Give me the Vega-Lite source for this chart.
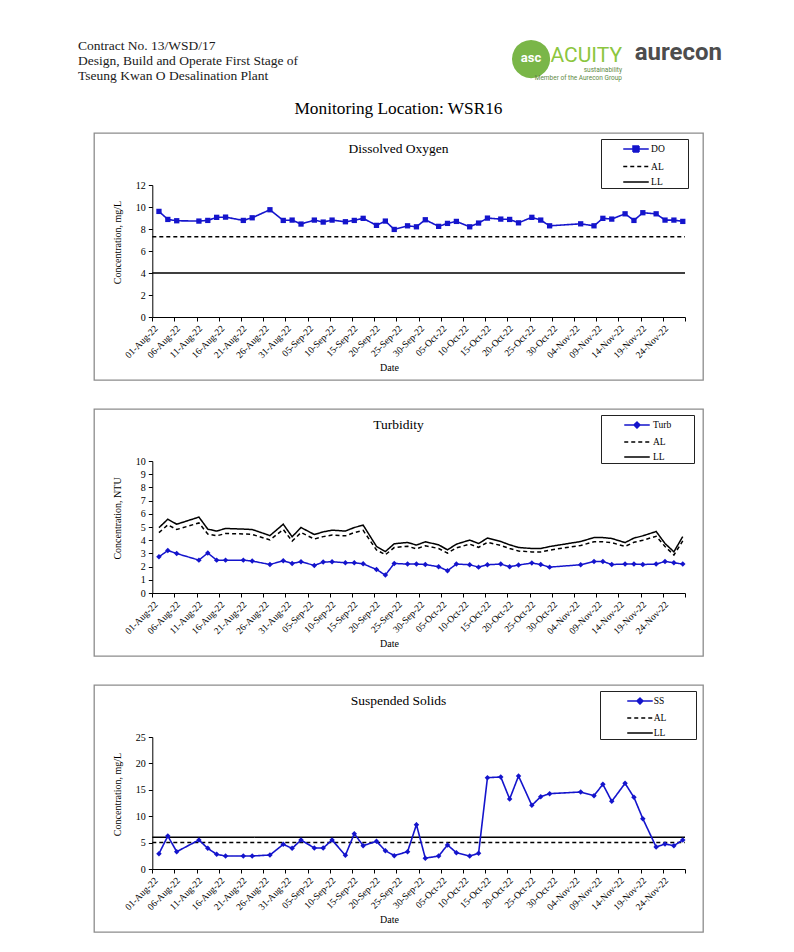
{
  "$schema": "https://vega.github.io/schema/vega-lite/v6.json",
  "background": "white",
  "padding": {"left": 78, "top": 32, "right": 4, "bottom": 4},
  "config": {
    "view": {"stroke": null},
    "title": {"font": "Liberation Serif", "fontWeight": "normal", "color": "black"},
    "axis": {"labelFont": "Liberation Serif", "titleFont": "Liberation Serif", "titleFontWeight": "normal", "labelColor": "black", "titleColor": "black", "domainColor": "black", "tickColor": "black", "grid": false, "labelOverlap": false, "labelFlush": false, "labelBound": false},
    "legend": {"labelFont": "Liberation Serif", "labelColor": "black"}
  },
  "datasets": {
    "wq": [
      {"date": "2022-08-02", "DO": 9.6, "Turb": 2.74, "AL": 4.57, "LL": 4.95, "SS": 2.9},
      {"date": "2022-08-04", "DO": 8.87, "Turb": 3.22, "AL": 5.16, "LL": 5.59, "SS": 6.25},
      {"date": "2022-08-06", "DO": 8.75, "Turb": 2.99, "AL": 4.81, "LL": 5.21, "SS": 3.28},
      {"date": "2022-08-11", "DO": 8.72, "Turb": 2.49, "AL": 5.31, "LL": 5.75, "SS": 5.49},
      {"date": "2022-08-13", "DO": 8.78, "Turb": 3.03, "AL": 4.47, "LL": 4.84, "SS": 3.91},
      {"date": "2022-08-15", "DO": 9.06, "Turb": 2.49, "AL": 4.33, "LL": 4.69, "SS": 2.78},
      {"date": "2022-08-17", "DO": 9.08, "Turb": 2.49, "AL": 4.51, "LL": 4.89, "SS": 2.46},
      {"date": "2022-08-21", "DO": 8.78, "Turb": 2.49, "AL": 4.47, "LL": 4.84, "SS": 2.46},
      {"date": "2022-08-23", "DO": 9.02, "Turb": 2.42, "AL": 4.44, "LL": 4.81, "SS": 2.46},
      {"date": "2022-08-27", "DO": 9.75, "Turb": 2.16, "AL": 4.02, "LL": 4.35, "SS": 2.65},
      {"date": "2022-08-30", "DO": 8.78, "Turb": 2.44, "AL": 4.81, "LL": 5.21, "SS": 4.67},
      {"date": "2022-09-01", "DO": 8.81, "Turb": 2.24, "AL": 3.93, "LL": 4.26, "SS": 3.91},
      {"date": "2022-09-03", "DO": 8.45, "Turb": 2.37, "AL": 4.58, "LL": 4.96, "SS": 5.49},
      {"date": "2022-09-06", "DO": 8.81, "Turb": 2.09, "AL": 4.09, "LL": 4.43, "SS": 3.98},
      {"date": "2022-09-08", "DO": 8.63, "Turb": 2.34, "AL": 4.27, "LL": 4.63, "SS": 3.98},
      {"date": "2022-09-10", "DO": 8.81, "Turb": 2.37, "AL": 4.39, "LL": 4.76, "SS": 5.49},
      {"date": "2022-09-13", "DO": 8.66, "Turb": 2.29, "AL": 4.33, "LL": 4.69, "SS": 2.59},
      {"date": "2022-09-15", "DO": 8.78, "Turb": 2.29, "AL": 4.58, "LL": 4.96, "SS": 6.69},
      {"date": "2022-09-17", "DO": 8.97, "Turb": 2.21, "AL": 4.74, "LL": 5.14, "SS": 4.42},
      {"date": "2022-09-20", "DO": 8.33, "Turb": 1.78, "AL": 3.26, "LL": 3.53, "SS": 5.24},
      {"date": "2022-09-22", "DO": 8.72, "Turb": 1.36, "AL": 2.9, "LL": 3.14, "SS": 3.47},
      {"date": "2022-09-24", "DO": 7.96, "Turb": 2.24, "AL": 3.44, "LL": 3.73, "SS": 2.53},
      {"date": "2022-09-27", "DO": 8.29, "Turb": 2.19, "AL": 3.54, "LL": 3.83, "SS": 3.28},
      {"date": "2022-09-29", "DO": 8.2, "Turb": 2.19, "AL": 3.35, "LL": 3.63, "SS": 8.4},
      {"date": "2022-10-01", "DO": 8.84, "Turb": 2.16, "AL": 3.58, "LL": 3.88, "SS": 2.05},
      {"date": "2022-10-04", "DO": 8.24, "Turb": 1.99, "AL": 3.37, "LL": 3.65, "SS": 2.46},
      {"date": "2022-10-06", "DO": 8.51, "Turb": 1.69, "AL": 3.02, "LL": 3.27, "SS": 4.55},
      {"date": "2022-10-08", "DO": 8.69, "Turb": 2.19, "AL": 3.42, "LL": 3.7, "SS": 3.09},
      {"date": "2022-10-11", "DO": 8.2, "Turb": 2.14, "AL": 3.7, "LL": 4.01, "SS": 2.46},
      {"date": "2022-10-13", "DO": 8.54, "Turb": 1.96, "AL": 3.46, "LL": 3.75, "SS": 2.97},
      {"date": "2022-10-15", "DO": 8.99, "Turb": 2.14, "AL": 3.84, "LL": 4.16, "SS": 17.3},
      {"date": "2022-10-18", "DO": 8.9, "Turb": 2.19, "AL": 3.6, "LL": 3.9, "SS": 17.42},
      {"date": "2022-10-20", "DO": 8.87, "Turb": 1.99, "AL": 3.37, "LL": 3.65, "SS": 13.26},
      {"date": "2022-10-22", "DO": 8.56, "Turb": 2.12, "AL": 3.18, "LL": 3.45, "SS": 17.61},
      {"date": "2022-10-25", "DO": 9.06, "Turb": 2.27, "AL": 3.11, "LL": 3.37, "SS": 12.06},
      {"date": "2022-10-27", "DO": 8.81, "Turb": 2.16, "AL": 3.11, "LL": 3.37, "SS": 13.7},
      {"date": "2022-10-29", "DO": 8.29, "Turb": 1.96, "AL": 3.25, "LL": 3.52, "SS": 14.27},
      {"date": "2022-11-05", "DO": 8.47, "Turb": 2.14, "AL": 3.6, "LL": 3.9, "SS": 14.58},
      {"date": "2022-11-08", "DO": 8.29, "Turb": 2.39, "AL": 3.88, "LL": 4.2, "SS": 13.89},
      {"date": "2022-11-10", "DO": 8.97, "Turb": 2.39, "AL": 3.88, "LL": 4.2, "SS": 16.04},
      {"date": "2022-11-12", "DO": 8.9, "Turb": 2.16, "AL": 3.81, "LL": 4.13, "SS": 12.82},
      {"date": "2022-11-15", "DO": 9.38, "Turb": 2.19, "AL": 3.53, "LL": 3.82, "SS": 16.22},
      {"date": "2022-11-17", "DO": 8.78, "Turb": 2.19, "AL": 3.84, "LL": 4.16, "SS": 13.57},
      {"date": "2022-11-19", "DO": 9.48, "Turb": 2.16, "AL": 4.0, "LL": 4.33, "SS": 9.53},
      {"date": "2022-11-22", "DO": 9.38, "Turb": 2.19, "AL": 4.3, "LL": 4.66, "SS": 4.17},
      {"date": "2022-11-24", "DO": 8.81, "Turb": 2.39, "AL": 3.52, "LL": 3.75, "SS": 4.73},
      {"date": "2022-11-26", "DO": 8.81, "Turb": 2.29, "AL": 2.88, "LL": 3.12, "SS": 4.42},
      {"date": "2022-11-28", "DO": 8.69, "Turb": 2.19, "AL": 3.95, "LL": 4.28, "SS": 5.49}
    ],
    "do_limits": [
      {"series": "AL", "value": 7.3},
      {"series": "LL", "value": 4.0}
    ],
    "ss_limits": [
      {"series": "AL", "value": 5.0},
      {"series": "LL", "value": 6.0}
    ]
  },
  "spacing": 15,
  "vconcat": [
    {
      "bounds": "flush",
      "spacing": 0,
      "hconcat": [
        {
          "width": 416, "height": 1,
          "data": {"values": []},
          "mark": "point",
          "title": {"text": ["Contract No. 13/WSD/17", "Design, Build and Operate First Stage of", "Tseung Kwan O Desalination Plant"], "anchor": "start", "dx": -16, "fontSize": 13.5, "lineHeight": 15, "offset": 2, "color": "#1a1a1a"}
        },
        {
          "width": 42, "height": 1,
          "data": {"values": []},
          "mark": "point",
          "title": {"text": "●", "font": "DejaVu Sans", "fontSize": 50, "color": "#7ab648", "anchor": "middle", "offset": 2, "subtitle": "asc", "subtitleFont": "Roboto", "subtitleFontWeight": "bold", "subtitleFontSize": 13, "subtitleColor": "white", "subtitlePadding": -30}
        },
        {
          "width": 70, "height": 1,
          "data": {"values": []},
          "mark": "point",
          "title": {"text": "ACUITY", "font": "Roboto", "fontSize": 21, "color": "#8cc63f", "anchor": "end", "offset": 3, "subtitle": ["sustainability", "Member of the Aurecon Group"], "subtitleFont": "Roboto", "subtitleFontSize": 6.5, "subtitleLineHeight": 8, "subtitleColor": "#5f8a45", "subtitlePadding": 1}
        },
        {
          "width": 100, "height": 1,
          "data": {"values": []},
          "mark": "point",
          "title": {"text": "aurecon", "font": "Roboto", "fontWeight": "bold", "fontSize": 24, "color": "#4d4d4d", "anchor": "end", "offset": 19}
        }
      ]
    },
    {
      "title": {"text": "Monitoring Location: WSR16", "anchor": "middle", "fontSize": 17.3, "offset": 15},
      "spacing": 27,
      "resolve": {"scale": {"color": "independent", "strokeDash": "independent", "x": "independent", "y": "independent"}, "legend": {"color": "independent", "strokeDash": "independent"}, "axis": {"x": "independent", "y": "independent"}},
      "vconcat": [
        {
          "width": 609, "height": 247,
          "view": {"stroke": "#8c8c8c", "strokeWidth": 1.3},
          "title": {"text": "Dissolved Oxygen", "anchor": "middle", "frame": "group", "fontSize": 13.5, "offset": -22},
          "layer": [
            {
              "data": {"name": "do_limits"},
              "mark": {"type": "rule", "strokeWidth": 1.5},
              "encoding": {
                "x": {"datum": {"year": 2022, "month": 8, "date": 1, "utc": true}, "type": "temporal",
                  "scale": {"type": "utc", "domain": [{"year": 2022, "month": 8, "date": 1, "utc": true}, {"year": 2022, "month": 11, "date": 29, "utc": true}], "range": [58.3, 591], "nice": false},
                  "axis": {"title": "Date", "titleFontSize": 10, "titleX": 295, "titleY": 50, "titleBaseline": "middle", "titleAlign": "center", "offset": -63, "tickCount": 200,
                    "values": [{"year": 2022, "month": 8, "date": 1, "utc": true}, {"year": 2022, "month": 8, "date": 6, "utc": true}, {"year": 2022, "month": 8, "date": 11, "utc": true}, {"year": 2022, "month": 8, "date": 16, "utc": true}, {"year": 2022, "month": 8, "date": 21, "utc": true}, {"year": 2022, "month": 8, "date": 26, "utc": true}, {"year": 2022, "month": 8, "date": 31, "utc": true}, {"year": 2022, "month": 9, "date": 5, "utc": true}, {"year": 2022, "month": 9, "date": 10, "utc": true}, {"year": 2022, "month": 9, "date": 15, "utc": true}, {"year": 2022, "month": 9, "date": 20, "utc": true}, {"year": 2022, "month": 9, "date": 25, "utc": true}, {"year": 2022, "month": 9, "date": 30, "utc": true}, {"year": 2022, "month": 10, "date": 5, "utc": true}, {"year": 2022, "month": 10, "date": 10, "utc": true}, {"year": 2022, "month": 10, "date": 15, "utc": true}, {"year": 2022, "month": 10, "date": 20, "utc": true}, {"year": 2022, "month": 10, "date": 25, "utc": true}, {"year": 2022, "month": 10, "date": 30, "utc": true}, {"year": 2022, "month": 11, "date": 4, "utc": true}, {"year": 2022, "month": 11, "date": 9, "utc": true}, {"year": 2022, "month": 11, "date": 14, "utc": true}, {"year": 2022, "month": 11, "date": 19, "utc": true}, {"year": 2022, "month": 11, "date": 24, "utc": true}, {"year": 2022, "month": 11, "date": 29, "utc": true}],
                    "labelExpr": "datum.value > 1669500000000 ? '' : utcFormat(datum.value, '%d-%b-%y')",
                    "labelAngle": -45, "labelFontSize": 9.5, "labelOverlap": false, "labelBound": false, "labelFlush": false, "labelPadding": 2, "tickSize": 4}
                },
                "x2": {"datum": {"year": 2022, "month": 11, "date": 29, "utc": true}},
                "y": {"field": "value", "type": "quantitative",
                  "scale": {"domain": [0, 12], "range": [184, 52], "nice": false, "zero": true},
                  "axis": {"title": "Concentration, mg/L", "titleFontSize": 10, "titleX": -35, "titleY": 109, "titleBaseline": "middle", "titleAlign": "center", "titleAngle": -90, "offset": -58.3, "values": [0, 2, 4, 6, 8, 10, 12], "tickCount": 50, "format": "d", "labelFontSize": 10, "tickSize": 4, "labelPadding": 3}
                },
                "color": {"field": "series", "type": "nominal",
                  "scale": {"domain": ["DO", "AL", "LL"], "range": ["#1414cc", "black", "black"]},
                  "legend": {"title": null, "orient": "none", "legendX": 507, "legendY": 6, "direction": "vertical", "padding": 1.5, "strokeColor": "#222222", "fillColor": "white", "symbolSize": 225, "symbolStrokeWidth": 1.5, "symbolOffset": 25, "labelOffset": 6.6, "symbolOpacity": 1, "labelFontSize": 9.5, "rowPadding": 2.5,
                    "labelExpr": "datum.label + '\u2800\u2800\u2800'",
                    "encode": {"symbols": {"update": {
                      "shape": {"signal": "datum.value === 'DO' ? 'M-1.7,0H1.7M-0.4,-0.4H0.4V0.4H-0.4Z' : 'M-1.7,0H1.7'"},
                      "fill": {"signal": "datum.value === 'DO' ? '#1414cc' : 'transparent'"},
                      "strokeDash": {"signal": "datum.value === 'AL' ? [4,3] : [1,0]"},
                      "strokeWidth": {"value": 1.5},
                      "opacity": {"value": 1}
                    }}}
                  }
                },
                "strokeDash": {"field": "series", "type": "nominal", "scale": {"domain": ["DO", "AL", "LL"], "range": [[1, 0], [4, 3], [1, 0]]}, "legend": null}
              }
            },
            {
              "data": {"name": "wq"},
              "transform": [{"fold": ["DO"], "as": ["series", "value"]}],
              "mark": {"type": "line", "strokeWidth": 1.6},
              "encoding": {
                "x": {"field": "date", "type": "temporal", "timeUnit": "utcyearmonthdate", "bandPosition": 0.5},
                "y": {"field": "value", "type": "quantitative"},
                "color": {"field": "series", "type": "nominal"},
                "strokeDash": {"field": "series", "type": "nominal", "legend": null}
              }
            },
            {
              "data": {"name": "wq"},
              "mark": {"type": "point", "shape": "square", "filled": true, "size": 28, "color": "#1414cc", "opacity": 1},
              "encoding": {
                "x": {"field": "date", "type": "temporal", "timeUnit": "utcyearmonthdate", "bandPosition": 0.5},
                "y": {"field": "DO", "type": "quantitative"}
              }
            }
          ]
        },
        {
          "width": 609, "height": 247,
          "view": {"stroke": "#8c8c8c", "strokeWidth": 1.3},
          "title": {"text": "Turbidity", "anchor": "middle", "frame": "group", "fontSize": 13.5, "offset": -22},
          "layer": [
            {
              "data": {"name": "wq"},
              "transform": [{"fold": ["Turb", "AL", "LL"], "as": ["series", "value"]}],
              "mark": {"type": "line", "strokeWidth": 1.5},
              "encoding": {
                "x": {"field": "date", "type": "temporal", "timeUnit": "utcyearmonthdate", "bandPosition": 0.5,
                  "scale": {"type": "utc", "domain": [{"year": 2022, "month": 8, "date": 1, "utc": true}, {"year": 2022, "month": 11, "date": 29, "utc": true}], "range": [58.3, 591], "nice": false},
                  "axis": {"title": "Date", "titleFontSize": 10, "titleX": 295, "titleY": 50, "titleBaseline": "middle", "titleAlign": "center", "offset": -63, "tickCount": 200,
                    "values": [{"year": 2022, "month": 8, "date": 1, "utc": true}, {"year": 2022, "month": 8, "date": 6, "utc": true}, {"year": 2022, "month": 8, "date": 11, "utc": true}, {"year": 2022, "month": 8, "date": 16, "utc": true}, {"year": 2022, "month": 8, "date": 21, "utc": true}, {"year": 2022, "month": 8, "date": 26, "utc": true}, {"year": 2022, "month": 8, "date": 31, "utc": true}, {"year": 2022, "month": 9, "date": 5, "utc": true}, {"year": 2022, "month": 9, "date": 10, "utc": true}, {"year": 2022, "month": 9, "date": 15, "utc": true}, {"year": 2022, "month": 9, "date": 20, "utc": true}, {"year": 2022, "month": 9, "date": 25, "utc": true}, {"year": 2022, "month": 9, "date": 30, "utc": true}, {"year": 2022, "month": 10, "date": 5, "utc": true}, {"year": 2022, "month": 10, "date": 10, "utc": true}, {"year": 2022, "month": 10, "date": 15, "utc": true}, {"year": 2022, "month": 10, "date": 20, "utc": true}, {"year": 2022, "month": 10, "date": 25, "utc": true}, {"year": 2022, "month": 10, "date": 30, "utc": true}, {"year": 2022, "month": 11, "date": 4, "utc": true}, {"year": 2022, "month": 11, "date": 9, "utc": true}, {"year": 2022, "month": 11, "date": 14, "utc": true}, {"year": 2022, "month": 11, "date": 19, "utc": true}, {"year": 2022, "month": 11, "date": 24, "utc": true}, {"year": 2022, "month": 11, "date": 29, "utc": true}],
                    "labelExpr": "datum.value > 1669500000000 ? '' : utcFormat(datum.value, '%d-%b-%y')",
                    "labelAngle": -45, "labelFontSize": 9.5, "labelOverlap": false, "labelBound": false, "labelFlush": false, "labelPadding": 2, "tickSize": 4}
                },
                "y": {"field": "value", "type": "quantitative",
                  "scale": {"domain": [0, 10], "range": [184, 52], "nice": false, "zero": true},
                  "axis": {"title": "Concentration, NTU", "titleFontSize": 10, "titleX": -35, "titleY": 109, "titleBaseline": "middle", "titleAlign": "center", "titleAngle": -90, "offset": -58.3, "values": [0, 1, 2, 3, 4, 5, 6, 7, 8, 9, 10], "tickCount": 50, "format": "d", "labelFontSize": 10, "tickSize": 4, "labelPadding": 3}
                },
                "color": {"field": "series", "type": "nominal",
                  "scale": {"domain": ["Turb", "AL", "LL"], "range": ["#1414cc", "black", "black"]},
                  "legend": {"title": null, "orient": "none", "legendX": 507, "legendY": 6, "direction": "vertical", "padding": 1.5, "strokeColor": "#222222", "fillColor": "white", "symbolSize": 225, "symbolStrokeWidth": 1.5, "symbolOffset": 26, "labelOffset": 7.5, "symbolOpacity": 1, "labelFontSize": 9.5, "rowPadding": 2,
                    "labelExpr": "datum.label + '\u2800\u2800\u2800'",
                    "encode": {"symbols": {"update": {
                      "shape": {"signal": "datum.value === 'Turb' ? 'M-1.7,0H1.7M0,-0.4L0.4,0L0,0.4L-0.4,0Z' : 'M-1.7,0H1.7'"},
                      "fill": {"signal": "datum.value === 'Turb' ? '#1414cc' : 'transparent'"},
                      "strokeDash": {"signal": "datum.value === 'AL' ? [4,3] : [1,0]"},
                      "strokeWidth": {"value": 1.5},
                      "opacity": {"value": 1}
                    }}}
                  }
                },
                "strokeDash": {"field": "series", "type": "nominal", "scale": {"domain": ["Turb", "AL", "LL"], "range": [[1, 0], [4, 3], [1, 0]]}, "legend": null}
              }
            },
            {
              "data": {"name": "wq"},
              "mark": {"type": "point", "shape": "diamond", "filled": true, "size": 30, "color": "#1414cc", "opacity": 1},
              "encoding": {
                "x": {"field": "date", "type": "temporal", "timeUnit": "utcyearmonthdate", "bandPosition": 0.5},
                "y": {"field": "Turb", "type": "quantitative"}
              }
            }
          ]
        },
        {
          "width": 609, "height": 247,
          "view": {"stroke": "#8c8c8c", "strokeWidth": 1.3},
          "title": {"text": "Suspended Solids", "anchor": "middle", "frame": "group", "fontSize": 13.5, "offset": -22},
          "layer": [
            {
              "data": {"name": "ss_limits"},
              "mark": {"type": "rule", "strokeWidth": 1.5},
              "encoding": {
                "x": {"datum": {"year": 2022, "month": 8, "date": 1, "utc": true}, "type": "temporal",
                  "scale": {"type": "utc", "domain": [{"year": 2022, "month": 8, "date": 1, "utc": true}, {"year": 2022, "month": 11, "date": 29, "utc": true}], "range": [58.3, 591], "nice": false},
                  "axis": {"title": "Date", "titleFontSize": 10, "titleX": 295, "titleY": 50, "titleBaseline": "middle", "titleAlign": "center", "offset": -63, "tickCount": 200,
                    "values": [{"year": 2022, "month": 8, "date": 1, "utc": true}, {"year": 2022, "month": 8, "date": 6, "utc": true}, {"year": 2022, "month": 8, "date": 11, "utc": true}, {"year": 2022, "month": 8, "date": 16, "utc": true}, {"year": 2022, "month": 8, "date": 21, "utc": true}, {"year": 2022, "month": 8, "date": 26, "utc": true}, {"year": 2022, "month": 8, "date": 31, "utc": true}, {"year": 2022, "month": 9, "date": 5, "utc": true}, {"year": 2022, "month": 9, "date": 10, "utc": true}, {"year": 2022, "month": 9, "date": 15, "utc": true}, {"year": 2022, "month": 9, "date": 20, "utc": true}, {"year": 2022, "month": 9, "date": 25, "utc": true}, {"year": 2022, "month": 9, "date": 30, "utc": true}, {"year": 2022, "month": 10, "date": 5, "utc": true}, {"year": 2022, "month": 10, "date": 10, "utc": true}, {"year": 2022, "month": 10, "date": 15, "utc": true}, {"year": 2022, "month": 10, "date": 20, "utc": true}, {"year": 2022, "month": 10, "date": 25, "utc": true}, {"year": 2022, "month": 10, "date": 30, "utc": true}, {"year": 2022, "month": 11, "date": 4, "utc": true}, {"year": 2022, "month": 11, "date": 9, "utc": true}, {"year": 2022, "month": 11, "date": 14, "utc": true}, {"year": 2022, "month": 11, "date": 19, "utc": true}, {"year": 2022, "month": 11, "date": 24, "utc": true}, {"year": 2022, "month": 11, "date": 29, "utc": true}],
                    "labelExpr": "datum.value > 1669500000000 ? '' : utcFormat(datum.value, '%d-%b-%y')",
                    "labelAngle": -45, "labelFontSize": 9.5, "labelOverlap": false, "labelBound": false, "labelFlush": false, "labelPadding": 2, "tickSize": 4}
                },
                "x2": {"datum": {"year": 2022, "month": 11, "date": 29, "utc": true}},
                "y": {"field": "value", "type": "quantitative",
                  "scale": {"domain": [0, 25], "range": [184, 52], "nice": false, "zero": true},
                  "axis": {"title": "Concentration, mg/L", "titleFontSize": 10, "titleX": -35, "titleY": 109, "titleBaseline": "middle", "titleAlign": "center", "titleAngle": -90, "offset": -58.3, "values": [0, 5, 10, 15, 20, 25], "tickCount": 50, "format": "d", "labelFontSize": 10, "tickSize": 4, "labelPadding": 3}
                },
                "color": {"field": "series", "type": "nominal",
                  "scale": {"domain": ["SS", "AL", "LL"], "range": ["#1414cc", "black", "black"]},
                  "legend": {"title": null, "orient": "none", "legendX": 506, "legendY": 6, "direction": "vertical", "padding": 1.5, "strokeColor": "#222222", "fillColor": "white", "symbolSize": 225, "symbolStrokeWidth": 1.5, "symbolOffset": 30, "labelOffset": 5.2, "symbolOpacity": 1, "labelFontSize": 9.5, "rowPadding": 2,
                    "labelExpr": "datum.label + '\u2800\u2800\u2800\u2800'",
                    "encode": {"symbols": {"update": {
                      "shape": {"signal": "datum.value === 'SS' ? 'M-1.7,0H1.7M0,-0.4L0.4,0L0,0.4L-0.4,0Z' : 'M-1.7,0H1.7'"},
                      "fill": {"signal": "datum.value === 'SS' ? '#1414cc' : 'transparent'"},
                      "strokeDash": {"signal": "datum.value === 'AL' ? [4,3] : [1,0]"},
                      "strokeWidth": {"value": 1.5},
                      "opacity": {"value": 1}
                    }}}
                  }
                },
                "strokeDash": {"field": "series", "type": "nominal", "scale": {"domain": ["SS", "AL", "LL"], "range": [[1, 0], [4, 3], [1, 0]]}, "legend": null}
              }
            },
            {
              "data": {"name": "wq"},
              "transform": [{"fold": ["SS"], "as": ["series", "value"]}],
              "mark": {"type": "line", "strokeWidth": 1.6},
              "encoding": {
                "x": {"field": "date", "type": "temporal", "timeUnit": "utcyearmonthdate", "bandPosition": 0.5},
                "y": {"field": "value", "type": "quantitative"},
                "color": {"field": "series", "type": "nominal"},
                "strokeDash": {"field": "series", "type": "nominal", "legend": null}
              }
            },
            {
              "data": {"name": "wq"},
              "mark": {"type": "point", "shape": "diamond", "filled": true, "size": 30, "color": "#1414cc", "opacity": 1},
              "encoding": {
                "x": {"field": "date", "type": "temporal", "timeUnit": "utcyearmonthdate", "bandPosition": 0.5},
                "y": {"field": "SS", "type": "quantitative"}
              }
            }
          ]
        }
      ]
    }
  ]
}
